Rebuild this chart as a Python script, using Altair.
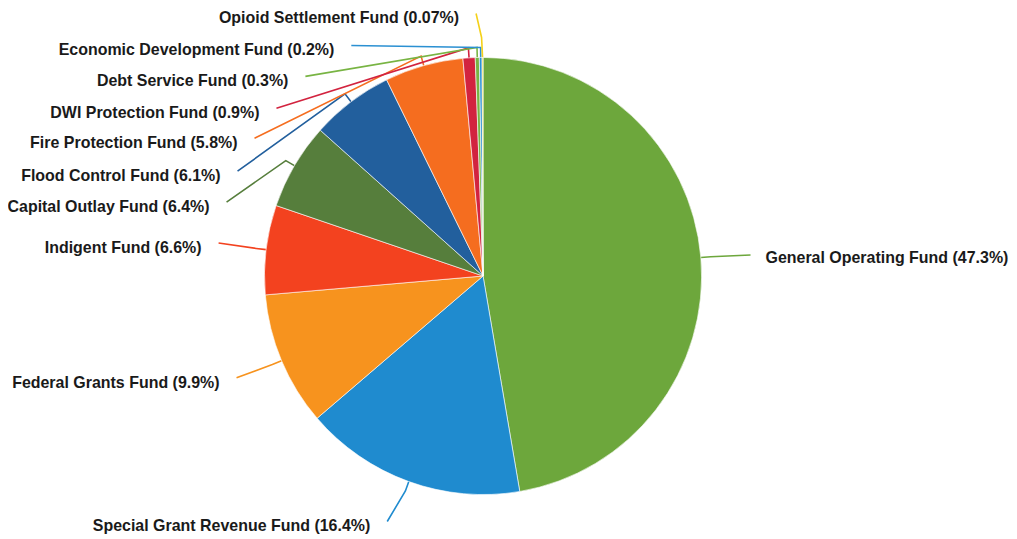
import math
import altair as alt
import pandas as pd

# ---- data ----
funds = [
    "General Operating Fund",
    "Special Grant Revenue Fund",
    "Federal Grants Fund",
    "Indigent Fund",
    "Capital Outlay Fund",
    "Flood Control Fund",
    "Fire Protection Fund",
    "DWI Protection Fund",
    "Debt Service Fund",
    "Economic Development Fund",
    "Opioid Settlement Fund",
]
shares = [47.3, 16.4, 9.9, 6.6, 6.4, 6.1, 5.8, 0.9, 0.3, 0.2, 0.07]
colors = [
    "#6da73c", "#1f8bcf", "#f7931e", "#f3421f", "#567e3c", "#225f9d",
    "#f56d1f", "#d2233f", "#78b443", "#2b90d2", "#f4d11a",
]

# ---- layout (label anchors, in page pixels) ----
label_x = [767, 371, 220, 202, 210, 221, 238, 260, 289, 335, 460]
label_y = [258, 527, 383, 248, 207, 176, 143, 113, 81, 50, 18]
label_side = ["left"] + ["right"] * 10

W, H = 1003, 531
CX, CY, R = 484, 276, 219
TICK = 10

total = sum(shares)
labels = [f"{f} ({v:g}%)" for f, v in zip(funds, shares)]

rows_text = []
rows_line = []
cum = 0.0
for i, (f, v) in enumerate(zip(funds, shares)):
    mid = (cum + v / 2) / total * 2 * math.pi
    cum += v
    sx, sy = math.sin(mid), -math.cos(mid)
    p0 = (CX + R * sx, CY + R * sy)
    p1 = (CX + (R + TICK) * sx, CY + (R + TICK) * sy)
    if label_side[i] == "left":
        p2 = (label_x[i] - 15, label_y[i] - 3)
    else:
        p2 = (label_x[i] + 17, label_y[i] - 5)
    if f == "Opioid Settlement Fund":
        p1 = (p0[0] - 1, p0[1] - 20)
    for k, p in enumerate([p0, p1, p2]):
        rows_line.append({"fund": f, "k": k, "x": p[0], "y": p[1]})
    rows_text.append({"fund": f, "label": labels[i], "x": label_x[i],
                      "y": label_y[i], "side": label_side[i]})

pie_df = pd.DataFrame({"fund": funds, "share": shares, "idx": list(range(len(funds)))})
line_df = pd.DataFrame(rows_line)
text_df = pd.DataFrame(rows_text)

color_scale = alt.Scale(domain=funds, range=colors)
xs = alt.Scale(domain=[8, 8 + W], nice=False, zero=False)
ys = alt.Scale(domain=[8, 8 + H], nice=False, zero=False, reverse=True)

pie = alt.Chart(pie_df).mark_arc(stroke="#ffffff", strokeWidth=0.6).encode(
    theta=alt.Theta("share:Q", stack=True),
    order=alt.Order("idx:Q"),
    color=alt.Color("fund:N", scale=color_scale, legend=None),
    x=alt.value(CX - 8),
    y=alt.value(CY - 8),
    radius=alt.value(R),
)

leaders = alt.Chart(line_df).mark_line(strokeWidth=1.6).encode(
    x=alt.X("x:Q", scale=xs, axis=None),
    y=alt.Y("y:Q", scale=ys, axis=None),
    detail="fund:N",
    order=alt.Order("k:Q"),
    color=alt.Color("fund:N", scale=color_scale, legend=None),
)

text_common = dict(font="Liberation Sans", fontSize=16, fontWeight="bold",
                   color="#1a1a1a", baseline="middle")

text_left = alt.Chart(text_df).transform_filter(
    alt.datum.side == "left"
).mark_text(align="left", **text_common).encode(
    x=alt.X("x:Q", scale=xs, axis=None),
    y=alt.Y("y:Q", scale=ys, axis=None),
    text="label:N",
)

text_right = alt.Chart(text_df).transform_filter(
    alt.datum.side == "right"
).mark_text(align="right", **text_common).encode(
    x=alt.X("x:Q", scale=xs, axis=None),
    y=alt.Y("y:Q", scale=ys, axis=None),
    text="label:N",
)

chart = alt.layer(leaders, pie, text_left, text_right).properties(
    width=W, height=H, padding=0,
    autosize=alt.AutoSizeParams(type="none"),
).configure_view(stroke=None)

chart.save("out.html", embed_options={"renderer": "svg", "actions": False})
